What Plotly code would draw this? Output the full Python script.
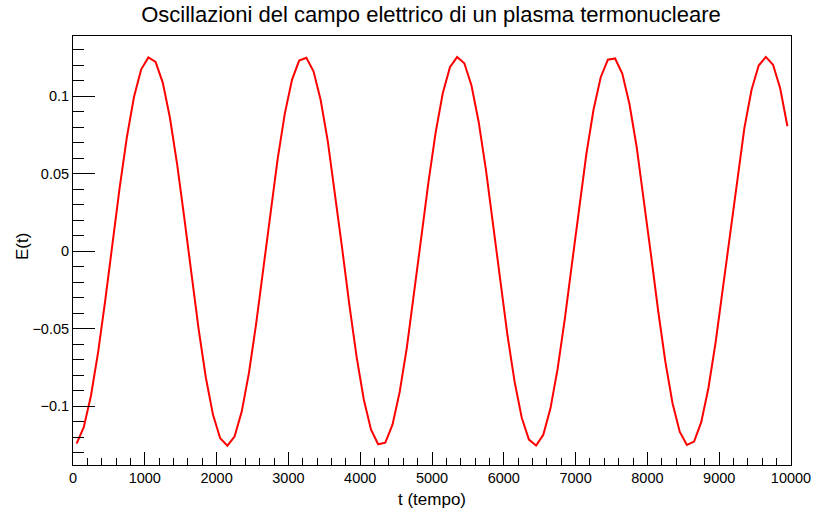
import plotly.graph_objects as go

t_values = [50 + 100 * i for i in range(100)]
e_values = [
    -0.1242, -0.1136, -0.0933, -0.0651, -0.0314, 0.0051, 0.0411, 0.0735, 0.0998, 0.1175,
    0.1252, 0.1223, 0.1089, 0.0862, 0.0563, 0.0215, -0.0151, -0.0505, -0.0815, -0.1056,
    -0.1207, -0.1255, -0.1196, -0.1035, -0.0787, -0.0471, -0.0115, 0.0251, 0.0595, 0.0889,
    0.1107, 0.1231, 0.1249, 0.1162, 0.0975, 0.0706, 0.0376, 0.0014, -0.0349, -0.0682,
    -0.0957, -0.1151, -0.1246, -0.1236, -0.1120, -0.0908, -0.0620, -0.0278, 0.0087, 0.0445,
    0.0765, 0.1020, 0.1188, 0.1254, 0.1214, 0.1070, 0.0835, 0.0530, 0.0179, -0.0188,
    -0.0538, -0.0842, -0.1075, -0.1216, -0.1254, -0.1185, -0.1014, -0.0758, -0.0437, -0.0078,
    0.0287, 0.0628, 0.0915, 0.1124, 0.1237, 0.1245, 0.1147, 0.0951, 0.0675, 0.0340,
    -0.0023, -0.0384, -0.0713, -0.0981, -0.1165, -0.1250, -0.1229, -0.1103, -0.0883, -0.0588,
    -0.0242, 0.0124, 0.0479, 0.0794, 0.1041, 0.1199, 0.1255, 0.1204, 0.1051, 0.0807,
]

x_range = [0, 10000]
y_range = [-0.138, 0.139]
y_tickvals = [-0.1, -0.05, 0, 0.05, 0.1]
y_ticktext = ["\u22120.1", "\u22120.05", "0", "0.05", "0.1"]
x_tickvals = [0, 1000, 2000, 3000, 4000, 5000, 6000, 7000, 8000, 9000, 10000]
x_ticktext = [str(v) for v in x_tickvals]

title_text = "Oscillazioni del campo elettrico di un plasma termonucleare"
x_title = "t (tempo)"
y_title = "E(t)"

font_family = "Liberation Sans, Arial, Helvetica, sans-serif"

fig = go.Figure()
fig.add_trace(go.Scatter(
    x=t_values, y=e_values, mode="lines",
    line=dict(color="#ff0000", width=2),
    showlegend=False,
))

fig.update_layout(
    width=817, height=514,
    margin=dict(l=73, r=26, t=36, b=49, pad=0),
    paper_bgcolor="white", plot_bgcolor="white",
    font=dict(family=font_family, size=14, color="black"),
    title=dict(
        text=title_text,
        x=0.5275, xanchor="center", y=0.972, yanchor="middle",
        font=dict(size=22, family=font_family, color="black"),
        automargin=False,
    ),
    annotations=[
        dict(text=x_title, xref="paper", yref="paper", x=0.5, y=0,
             xanchor="center", yanchor="middle", yshift=-34, showarrow=False,
             font=dict(size=17, family=font_family, color="black")),
        dict(text=y_title, xref="paper", yref="paper", x=0, y=0.5,
             xanchor="center", yanchor="middle", xshift=-50.5, yshift=4,
             textangle=-90, showarrow=False,
             font=dict(size=17, family=font_family, color="black")),
    ],
)

fig.update_xaxes(
    range=x_range, tickvals=x_tickvals, ticktext=x_ticktext,
    automargin=False,
    showgrid=False, zeroline=False,
    showline=True, linecolor="black", linewidth=1, mirror=True,
    ticks="inside", ticklen=13, tickcolor="black", tickwidth=1,
    minor=dict(ticks="inside", ticklen=7, dtick=200, tickcolor="black", showgrid=False),
    tickfont=dict(size=14.5),
)

fig.update_yaxes(
    range=y_range, tickvals=y_tickvals, ticktext=y_ticktext,
    automargin=False,
    showgrid=False, zeroline=False,
    showline=True, linecolor="black", linewidth=1, mirror=True,
    ticks="inside", ticklen=22, tickcolor="black", tickwidth=1,
    minor=dict(ticks="inside", ticklen=11, dtick=0.01, tick0=0, tickcolor="black", showgrid=False),
    tickfont=dict(size=14.5),
)

fig.write_html(
    "out.html",
    config={"displayModeBar": False},
    post_script="document.body.style.margin='0';document.body.style.overflow='hidden';",
)
